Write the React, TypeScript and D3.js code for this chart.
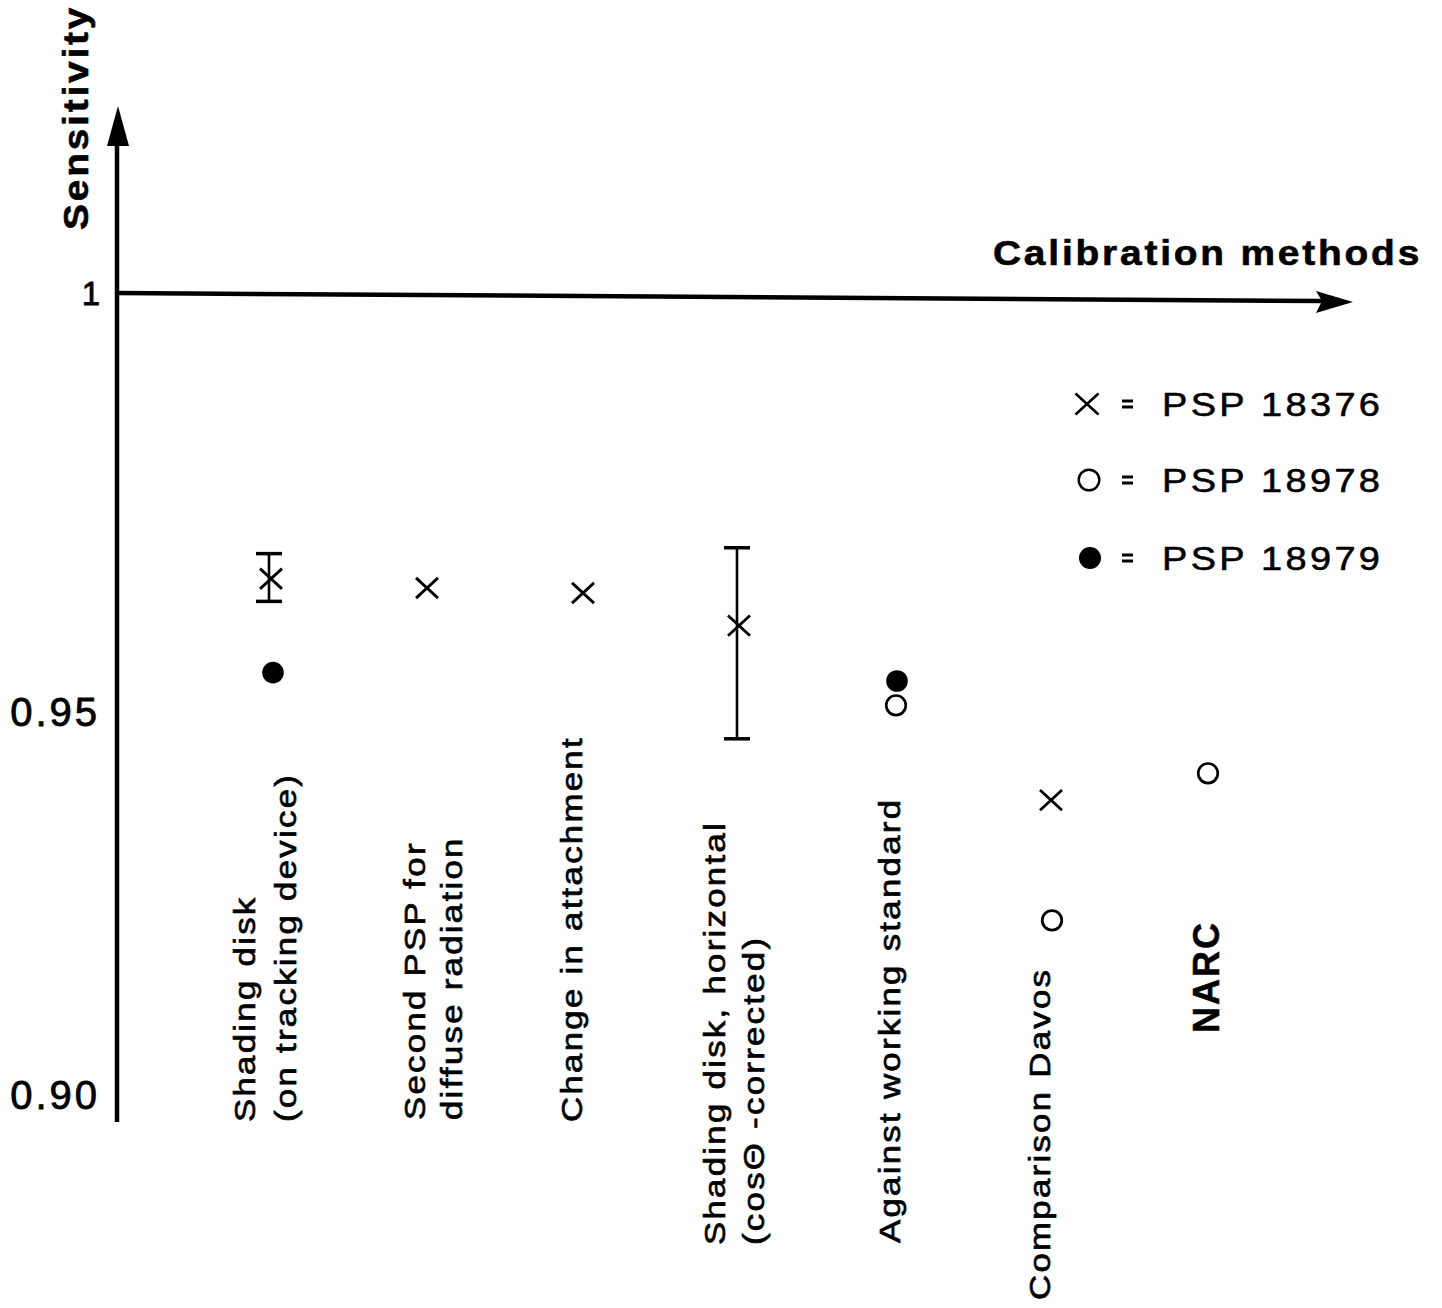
import React from "react";
import * as d3 from "d3";

// Calibration methods along the horizontal axis
const methods = [
  "Shading disk (on tracking device)",
  "Second PSP for diffuse radiation",
  "Change in attachment",
  "Shading disk, horizontal (cosΘ-corrected)",
  "Against working standard",
  "Comparison Davos",
  "NARC",
];

// Text lines printed under each method
const methodLabelLines = [
  ["Shading disk", "(on tracking device)"],
  ["Second PSP for", "diffuse radiation"],
  ["Change in attachment"],
  ["Shading disk, horizontal", "(cosΘ -corrected)"],
  ["Against working standard"],
  ["Comparison Davos"],
  ["NARC"],
];

// Sensitivity per instrument (null = not measured)
const psp18376 = [0.9659, 0.9648, 0.9642, 0.9603, null, 0.9385, null];
const psp18376Low = [0.9632, null, null, 0.9465, null, null, null];
const psp18376High = [0.9689, null, null, 0.9696, null, null, null];
const psp18978 = [null, null, null, null, 0.9508, 0.9228, 0.942];
const psp18979 = [0.9547, null, null, null, 0.9537, null, null];

const yTicks = [0.9, 0.95, 1];
const legendNames = ["PSP 18376", "PSP 18978", "PSP 18979"];

const FONT = "'Liberation Sans', Arial, Helvetica, sans-serif";

// Placement of the rotated method labels: start (bottom) y, baseline offsets per line
const labelLayout = [
  { bottom: 1122, dx: [-16, 25], size: 29, weight: 400 },
  { bottom: 1120, dx: [-2, 35], size: 29, weight: 400 },
  { bottom: 1122, dx: [-1], size: 29, weight: 400 },
  { bottom: 1245, dx: [-14, 25], size: 29, weight: 400 },
  { bottom: 1243, dx: [5], size: 29, weight: 400 },
  { bottom: 1300, dx: [-1], size: 29, weight: 400 },
  { bottom: 1033, dx: [12], size: 36, weight: 700 },
];

const crossPath = (s: number) => `M${-s},${-s * 0.92}L${s},${s * 0.92}M${-s},${s * 0.92}L${s},${-s * 0.92}`;

// Slightly widened, heavier type like the typewritten lettering
const INK = { stroke: "#000", strokeWidth: 0.6, paintOrder: "stroke" as const };

export default function App() {
  const W = 1442;
  const H = 1308;
  const axisX = 117;

  const x = d3.scalePoint<string>().domain(methods).range([271, 1207]);
  const y = d3.scaleLinear().domain([0.9, 0.95, 1]).range([1095, 712, 293]);
  const y1 = y(1);

  const fmt = (v: number) => (v === 1 ? "1" : d3.format(".2f")(v));

  return (
    <svg
      width={W}
      height={H}
      style={{ position: "absolute", left: 0, top: 0, display: "block", background: "#fff" }}
      fontFamily={FONT}
    >
      <rect width={W} height={H} fill="#fff" />

      {/* vertical axis with arrow */}
      <line x1={axisX} y1={1122} x2={axisX} y2={140} stroke="#000" strokeWidth={4.5} />
      <path d={`M${axisX + 1},106L${axisX + 12},146L${axisX - 10},146Z`} fill="#000" />

      {/* horizontal axis at sensitivity 1, with arrow */}
      <line x1={axisX} y1={y1} x2={1322} y2={y1 + 8} stroke="#000" strokeWidth={4.5} />
      <path d={`M1353,${y1 + 9}L1316,${y1 - 2}L1322,${y1 + 8}L1316,${y1 + 20}Z`} fill="#000" />

      {/* axis titles */}
      <text
        transform={`translate(88,230) rotate(-90) scale(1.08,1)`}
        fontSize={36}
        fontWeight={700}
        style={{ letterSpacing: "2.6px" }}
        {...INK}
      >
        Sensitivity
      </text>
      <text
        transform={`translate(993,265) scale(1.08,1)`}
        fontSize={36}
        fontWeight={700}
        style={{ letterSpacing: "2.6px" }}
        {...INK}
      >
        Calibration methods
      </text>

      {/* tick labels */}
      {yTicks.map((t) => (
        <text
          key={t}
          x={100}
          y={y(t)}
          textAnchor="end"
          dominantBaseline="central"
          fontSize={t === 1 ? 33 : 40}
          style={{ letterSpacing: t === 1 ? "0px" : "3px" }}
          {...INK}
          strokeWidth={0.8}
        >
          {fmt(t)}
        </text>
      ))}

      {/* error bars */}
      {methods.map((m, i) => {
        const lo = psp18376Low[i];
        const hi = psp18376High[i];
        if (lo == null || hi == null) return null;
        const cx = (x(m) as number) - 2;
        return (
          <g key={`eb${i}`} stroke="#000" strokeWidth={2.6} fill="none">
            <line x1={cx} y1={y(hi)} x2={cx} y2={y(lo)} />
            <line x1={cx - 13} y1={y(hi)} x2={cx + 13} y2={y(hi)} strokeWidth={3.5} />
            <line x1={cx - 13} y1={y(lo)} x2={cx + 13} y2={y(lo)} strokeWidth={3.5} />
          </g>
        );
      })}

      {/* PSP 18376: crosses */}
      {methods.map((m, i) => {
        const v = psp18376[i];
        if (v == null) return null;
        return (
          <path
            key={`x${i}`}
            d={crossPath(11)}
            transform={`translate(${x(m)},${y(v)})`}
            stroke="#000"
            strokeWidth={2.8}
            fill="none"
          />
        );
      })}

      {/* PSP 18978: open circles */}
      {methods.map((m, i) => {
        const v = psp18978[i];
        if (v == null) return null;
        return (
          <circle
            key={`o${i}`}
            cx={(x(m) as number) + 1}
            cy={y(v)}
            r={9.8}
            fill="#fff"
            stroke="#000"
            strokeWidth={2.7}
          />
        );
      })}

      {/* PSP 18979: filled dots */}
      {methods.map((m, i) => {
        const v = psp18979[i];
        if (v == null) return null;
        return <circle key={`f${i}`} cx={(x(m) as number) + 2} cy={y(v)} r={10.8} fill="#000" />;
      })}

      {/* method labels */}
      {methods.map((m, i) => {
        const lay = labelLayout[i];
        const bold = lay.weight === 700;
        return methodLabelLines[i].map((line, j) => (
          <text
            key={`l${i}-${j}`}
            transform={`translate(${(x(m) as number) + lay.dx[j]},${lay.bottom}) rotate(-90) scale(${bold ? 1 : 1.2},1)`}
            fontSize={lay.size}
            fontWeight={lay.weight}
            style={{ letterSpacing: bold ? "2px" : "1.9px" }}
            {...INK}
            strokeWidth={bold ? 0.5 : 0.65}
          >
            {line}
          </text>
        ));
      })}

      {/* legend */}
      {legendNames.map((name, i) => {
        const rowY = [404, 480, 558][i];
        const mx = [1087, 1089, 1090][i];
        return (
          <g key={name}>
            {i === 0 && (
              <path
                d={crossPath(11.5)}
                transform={`translate(${mx},${rowY})`}
                stroke="#000"
                strokeWidth={2.6}
                fill="none"
              />
            )}
            {i === 1 && <circle cx={mx} cy={rowY} r={10.3} fill="#fff" stroke="#000" strokeWidth={2.4} />}
            {i === 2 && <circle cx={mx} cy={rowY} r={11} fill="#000" />}
            <g stroke="#000" strokeWidth={3}>
              <line x1={1122} x2={1133} y1={rowY - 3} y2={rowY - 3} />
              <line x1={1122} x2={1133} y1={rowY + 3} y2={rowY + 3} />
            </g>
            <text
              transform={`translate(1162,${rowY + 12}) scale(1.15,1)`}
              fontSize={33}
              style={{ letterSpacing: "2.9px" }}
              {...INK}
              strokeWidth={0.55}
            >
              {name}
            </text>
          </g>
        );
      })}
    </svg>
  );
}
